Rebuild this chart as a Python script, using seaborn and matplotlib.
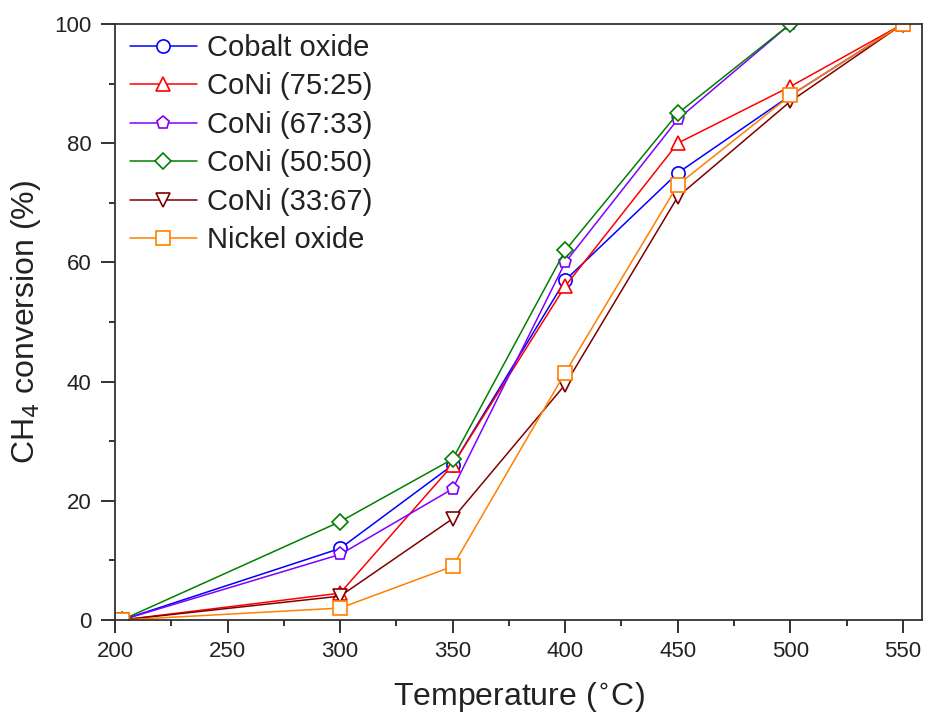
import pandas as pd
import numpy as np
import matplotlib
matplotlib.use("Agg")
import matplotlib.pyplot as plt
import seaborn as sns
from matplotlib.ticker import MultipleLocator

temps = [203, 300, 350, 400, 450, 500, 550]

cobalt = [0, 12, 26, 57, 75, 88, 100]
coni_75 = [0, 4.5, 26, 56, 80, 89.5, 100]
coni_67 = [0, 11, 22, 60, 84, 100, 100]
coni_50 = [0, 16.5, 27, 62, 85, 100, 100]
coni_33 = [0, 4, 17, 39.5, 71, 87, 100]
nickel = [0, 2, 9, 41.5, 73, 88, 100]

labels = ["Cobalt oxide", "CoNi (75:25)", "CoNi (67:33)",
          "CoNi (50:50)", "CoNi (33:67)", "Nickel oxide"]
series = [cobalt, coni_75, coni_67, coni_50, coni_33, nickel]
colors = ["#0000ff", "#ff0000", "#8000ff", "#008000", "#800000", "#ff8000"]
markers = ["o", "^", "p", "D", "v", "s"]

sns.set_style("ticks")
plt.rcParams['font.family'] = ['Liberation Sans', 'DejaVu Sans']
plt.rcParams['text.color'] = '#222222'
plt.rcParams['axes.labelcolor'] = '#222222'
plt.rcParams['xtick.color'] = '#222222'
plt.rcParams['ytick.color'] = '#222222'

fig = plt.figure(figsize=(9.27, 7.22), dpi=100)
ax = fig.add_axes([0.1241, 0.1413, 0.8705, 0.8255])

for lab, vals, col, mk in zip(labels, series, colors, markers):
	df = pd.DataFrame({"Temperature": temps, "Conversion": vals})
	ms = 8.5 if mk == "D" else 9.5
	sns.lineplot(data=df, x="Temperature", y="Conversion", ax=ax, color=col,
		marker=mk, markersize=ms, markerfacecolor="white", markeredgecolor=col,
		markeredgewidth=1.2, linewidth=1.1, label=lab)

ax.set_xlim(200, 558.5)
ax.set_ylim(0, 100)
ax.xaxis.set_major_locator(MultipleLocator(50))
ax.xaxis.set_minor_locator(MultipleLocator(25))
ax.yaxis.set_major_locator(MultipleLocator(20))
ax.yaxis.set_minor_locator(MultipleLocator(10))
ax.tick_params(which="major", direction="out", length=9, width=1.3, labelsize=16, pad=6)
ax.tick_params(axis="y", which="major", length=10, pad=7)
ax.tick_params(which="minor", direction="out", length=4.5, width=1.3)
for sp in ax.spines.values():
	sp.set_linewidth(1.3)
	sp.set_color("#333333")

ax.set_xlabel("Temperature ($^{\\circ}$C)", fontsize=23, labelpad=13)
ax.set_ylabel("CH$_4$ conversion (%)", fontsize=23, labelpad=8)

ax.legend(loc="upper left", bbox_to_anchor=(0.0, 1.008), frameon=False,
	fontsize=21, handlelength=2.3, handletextpad=0.35, labelspacing=0.36,
	borderpad=0.3, borderaxespad=0.2)

fig.savefig("out.png", dpi=100)
